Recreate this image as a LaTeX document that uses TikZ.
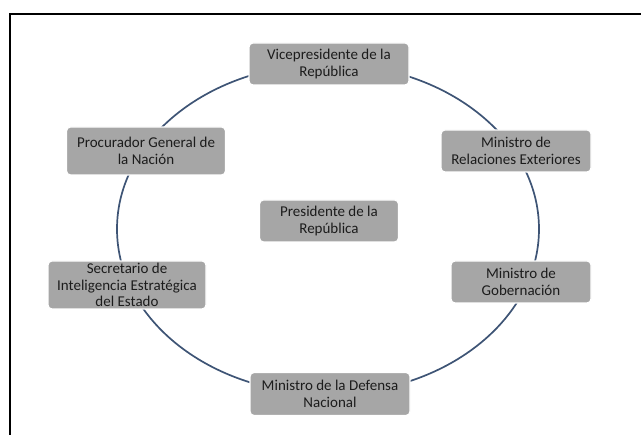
\documentclass[tikz,border=0pt]{standalone}
\usepackage{fontspec}
\setmainfont{Carlito}
\definecolor{boxgray}{HTML}{A6A6A6}
\definecolor{ringblue}{HTML}{3E5475}
\definecolor{textdark}{HTML}{1C1C1C}
\tikzset{
  cargo/.style={rounded corners=4pt, fill=boxgray, draw=white, line width=1.2pt,
    align=center, inner sep=0pt, minimum height=42pt, text=textdark,
    font=\fontsize{15}{17.5}\selectfont},
  ring/.style={ringblue, line width=1.7pt}
}
\begin{document}
\begin{tikzpicture}[x=1pt,y=-1pt]
            \useasboundingbox (0,0) rectangle (641,435);
            \draw[line width=2.2pt] (10,435) -- (10,14) -- (641,14);
            \coordinate (centro) at (328,229);
            \draw[ring] (centro) ellipse [x radius=211pt, y radius=165pt];
            \node[cargo, minimum width=160pt] (vice) at (329,64) {Vicepresidente de la\\República};
            \node[cargo, minimum width=150pt] (relext) at (516,151) {Ministro de\\Relaciones Exteriores};
            \node[cargo, minimum width=140pt] (gobern) at (521,282) {Ministro de\\Gobernación};
            \node[cargo, minimum width=160pt, minimum height=43pt] (defensa) at (330,394) {Ministro de la Defensa\\Nacional};
            \node[cargo, minimum width=158pt, minimum height=48pt] (secret) at (127,285) {Secretario de\\[-1pt]Inteligencia Estratégica\\[-1pt]del Estado};
            \node[cargo, minimum width=159pt, minimum height=48pt] (procur) at (146,151) {Procurador General de\\la Nación};
            \node[cargo, minimum width=139pt] (presi) at (329,221) {Presidente de la\\República};
        \end{tikzpicture}
\end{document}
